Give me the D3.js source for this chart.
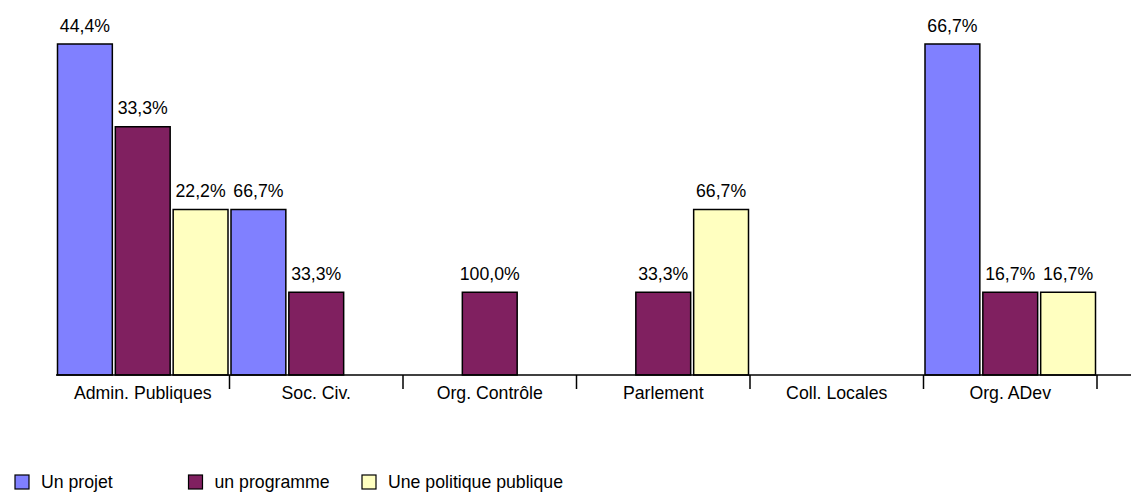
<!DOCTYPE html>
<html>
<head>
<meta charset="utf-8">
<script src="https://cdn.jsdelivr.net/npm/d3@7"></script>
<style>
  html, body { margin: 0; padding: 0; background: #fff; }
  svg { display: block; font-family: "Liberation Sans", Arial, sans-serif; }
</style>
</head>
<body>
<svg id="chart" width="1131" height="494"></svg>
<script>
// Categories of actors
const categories = ["Admin. Publiques", "Soc. Civ.", "Org. Contrôle", "Parlement", "Coll. Locales", "Org. ADev"];
// Series names (type of intervention)
const seriesNames = ["Un projet", "un programme", "Une politique publique"];
// Number of responses per category, one array per series
const unProjet        = [4, 2, 0, 0, 0, 4];
const unProgramme     = [3, 1, 1, 1, 0, 1];
const unePolitique    = [2, 0, 0, 2, 0, 1];
const seriesColors = ["#8080ff", "#802060", "#ffffc0"];

const seriesValues = [unProjet, unProgramme, unePolitique];

const svg = d3.select("#chart");
const fontSize = 17.7;

const x0 = d3.scaleBand().domain(categories).range([56, 1097]).padding(0);
const x1 = d3.scaleBand().domain(d3.range(seriesNames.length)).range([0, x0.bandwidth()]).padding(0);
const y = d3.scaleLinear().domain([0, 4]).range([375, 44]);
const inset = 1.5;

// Share of each series within its category, written with a decimal comma
const pct = (v, total) => d3.format(".1f")(100 * v / total).replace(".", ",") + "%";

const rows = categories.map((c, i) => {
  const vals = seriesValues.map(s => s[i]);
  const total = d3.sum(vals);
  return { cat: c, items: vals.map((v, j) => ({ j, v, total })) };
});

const groups = svg.append("g").selectAll("g")
  .data(rows).join("g")
  .attr("transform", d => `translate(${x0(d.cat)},0)`);

const items = groups.selectAll("g.item")
  .data(d => d.items.filter(it => it.v > 0)).join("g").attr("class", "item");

items.append("rect")
  .attr("x", d => x1(d.j) + inset)
  .attr("width", x1.bandwidth() - 2 * inset)
  .attr("y", d => y(d.v))
  .attr("height", d => y(0) - y(d.v))
  .attr("fill", d => seriesColors[d.j])
  .attr("stroke", "#000")
  .attr("stroke-width", 1.5);

items.append("text")
  .attr("x", d => x1(d.j) + x1.bandwidth() / 2)
  .attr("y", d => y(d.v) - 12.5)
  .attr("text-anchor", "middle")
  .attr("font-size", fontSize)
  .attr("fill", "#000")
  .text(d => pct(d.v, d.total));

// Category axis: baseline, separators between categories and labels
const axis = svg.append("g");
axis.append("line")
  .attr("x1", x0.range()[0]).attr("x2", 1131)
  .attr("y1", y(0)).attr("y2", y(0))
  .attr("stroke", "#000").attr("stroke-width", 1.5);

axis.selectAll("line.tick")
  .data(categories).join("line").attr("class", "tick")
  .attr("x1", d => x0(d) + x0.bandwidth()).attr("x2", d => x0(d) + x0.bandwidth())
  .attr("y1", y(0)).attr("y2", y(0) + 14)
  .attr("stroke", "#000").attr("stroke-width", 1.5);

axis.selectAll("text")
  .data(categories).join("text")
  .attr("x", d => x0(d) + x0.bandwidth() / 2)
  .attr("y", y(0) + 24)
  .attr("text-anchor", "middle")
  .attr("font-size", fontSize)
  .attr("fill", "#000")
  .text(d => d);

// Legend
const legend = svg.append("g");
const legendX = d3.scaleBand().domain(d3.range(seriesNames.length)).range([15, 15 + 3 * x0.bandwidth()]);
const lg = legend.selectAll("g").data(seriesNames).join("g")
  .attr("transform", (d, i) => `translate(${legendX(i)},475)`);
lg.append("rect")
  .attr("width", 14).attr("height", 14)
  .attr("fill", (d, i) => seriesColors[i])
  .attr("stroke", "#000").attr("stroke-width", 1.2);
lg.append("text")
  .attr("x", 26).attr("y", 13)
  .attr("font-size", fontSize)
  .attr("fill", "#000")
  .text(d => d);
</script>
</body>
</html>
